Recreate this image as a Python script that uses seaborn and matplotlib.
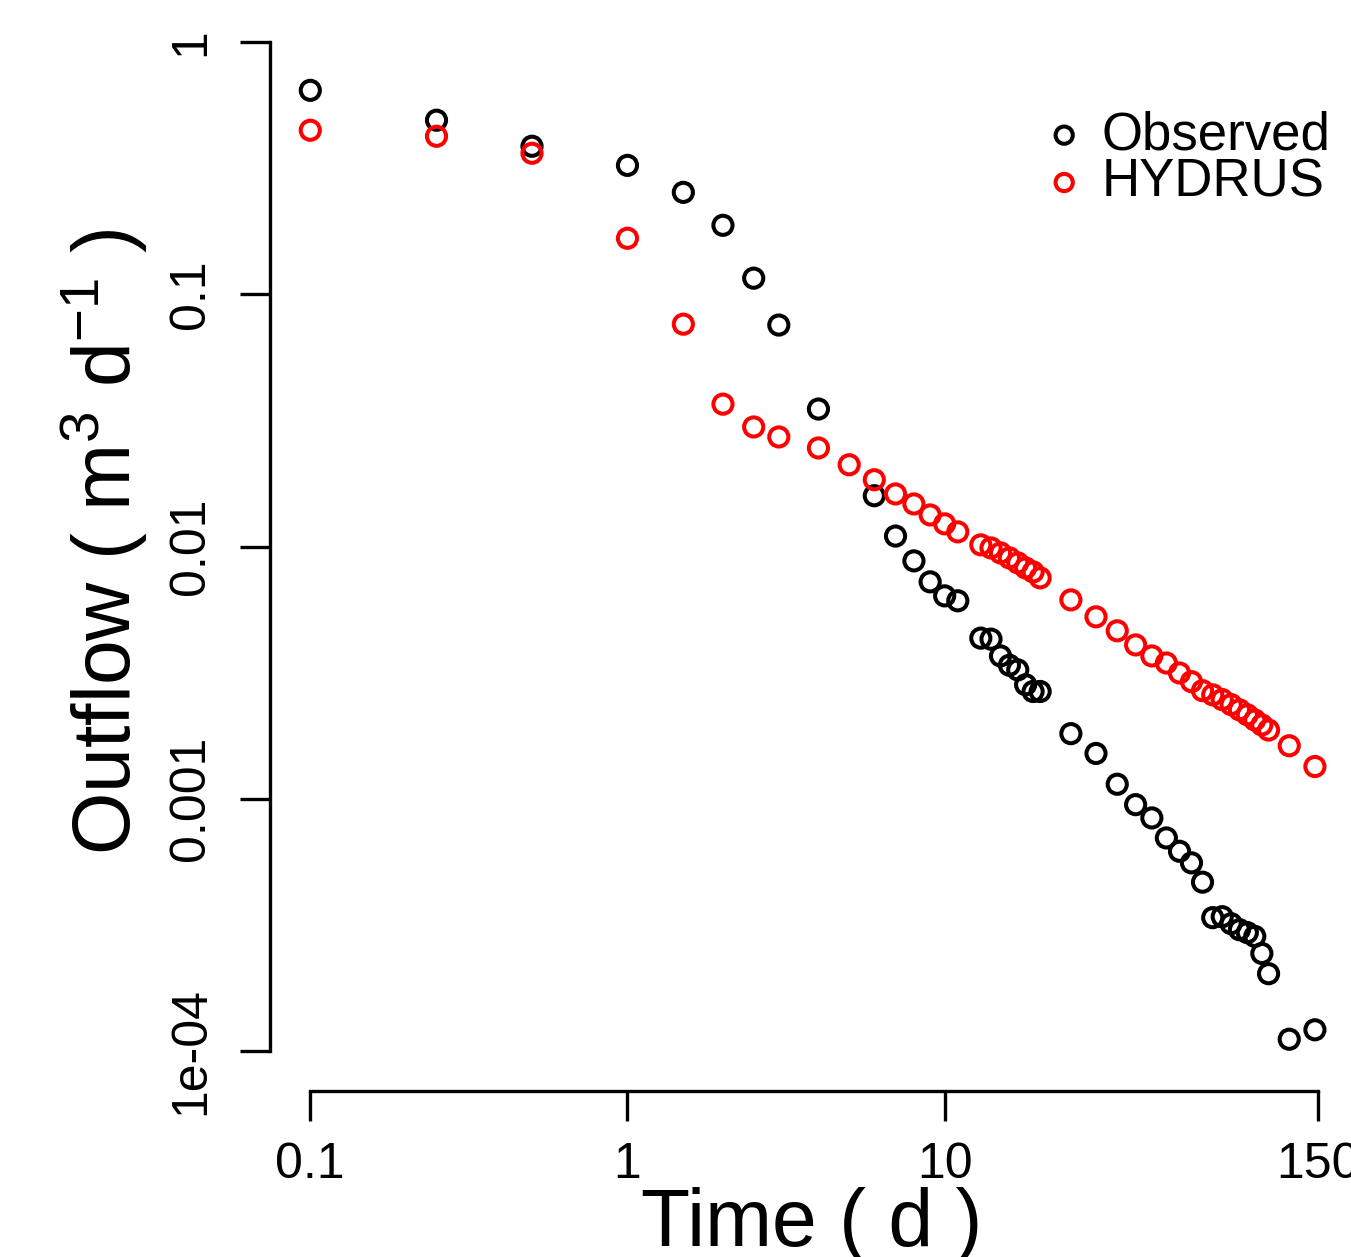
import numpy as np
import pandas as pd
import matplotlib
matplotlib.use("Agg")
import matplotlib.pyplot as plt
import seaborn as sns

# Observed outflow (time in days, outflow in m3/d)
obs_time = [0.1, 0.25, 0.5, 1, 1.5, 2, 2.5, 3, 4, 6, 7, 8, 9, 10, 11,
            13, 14, 15, 16, 17, 18, 19, 20, 25, 30, 35, 40, 45, 50, 55, 60,
            65, 70, 75, 80, 85, 90, 95, 100, 105, 122, 147]
obs_flow = [0.645, 0.491, 0.387, 0.325, 0.254, 0.188, 0.116, 0.0756, 0.0351,
            0.0159, 0.0110, 0.00877, 0.00724, 0.00637, 0.00609,
            0.00433, 0.00429, 0.00368, 0.00338, 0.00324, 0.00283, 0.00266, 0.00266,
            0.00181, 0.00151, 0.00114, 0.000946, 0.000838, 0.000698, 0.000618, 0.000556,
            0.000466, 0.000337, 0.000340, 0.000319, 0.000302, 0.000294, 0.000284,
            0.000243, 0.000202, 0.000111, 0.000121]

# HYDRUS simulated outflow
hyd_time = [0.1, 0.25, 0.5, 1, 1.5, 2, 2.5, 3, 4, 5, 6, 7, 8, 9, 10, 11,
            13, 14, 15, 16, 17, 18, 19, 20, 25, 30, 35, 40, 45, 50, 55, 60,
            65, 70, 75, 80, 85, 90, 95, 100, 105, 122, 147]
hyd_flow = [0.448, 0.424, 0.363, 0.167, 0.0762, 0.0367, 0.0298, 0.0272, 0.0246,
            0.0211, 0.0184, 0.01616, 0.01475, 0.01334, 0.0123, 0.01143,
            0.01015, 0.00987, 0.00943, 0.00901, 0.00861, 0.00822, 0.00793, 0.00751,
            0.00614, 0.00526, 0.00463, 0.00407, 0.00368, 0.00345, 0.00315, 0.00291,
            0.00268, 0.00258, 0.00247, 0.00236, 0.00225, 0.00215, 0.00205, 0.00196,
            0.00187, 0.00162, 0.00134]

x_ticks = [0.1, 1, 10, 150]
x_labels = ["0.1", "1", "10", "150"]
y_ticks = [1e-4, 1e-3, 1e-2, 0.1, 1]
y_labels = ["1e-04", "0.001", "0.01", "0.1", "1"]

sns.set_style("ticks")
plt.rcParams['font.family'] = ['Liberation Sans', 'DejaVu Sans']
plt.rcParams['mathtext.fontset'] = 'custom'
plt.rcParams['mathtext.rm'] = 'Liberation Sans'
plt.rcParams['mathtext.it'] = 'Liberation Sans'
for key in ['text.color', 'axes.labelcolor', 'xtick.color', 'ytick.color', 'axes.edgecolor']:
    plt.rcParams[key] = 'black'

W, H = 1351, 1257
fig = plt.figure(figsize=(W / 100, H / 100), dpi=100)
ax = fig.add_axes([270 / W, 166 / H, 1088 / W, 1089 / H])

obs = pd.DataFrame({"time": obs_time, "flow": obs_flow})
hyd = pd.DataFrame({"time": hyd_time, "flow": hyd_flow})

sns.scatterplot(data=obs, x="time", y="flow", ax=ax, marker="o", s=190,
                facecolor="none", edgecolor="black", linewidth=2.9,
                label="Observed", zorder=2)
sns.scatterplot(data=hyd, x="time", y="flow", ax=ax, marker="o", s=190,
                facecolor="none", edgecolor="red", linewidth=2.9,
                label="HYDRUS", zorder=3)

ax.set_xscale("log")
ax.set_yscale("log")

# R-style 4% padding around the axis range
xr = np.log10([0.1, 150])
yr = np.log10([1e-4, 1])
px = 0.04 * (xr[1] - xr[0])
py = 0.04 * (yr[1] - yr[0])
ax.set_xlim(10 ** (xr[0] - px), 10 ** (xr[1] + px))
ax.set_ylim(10 ** (yr[0] - py), 10 ** (yr[1] + py))

ax.xaxis.set_major_locator(matplotlib.ticker.FixedLocator(x_ticks))
ax.xaxis.set_minor_locator(matplotlib.ticker.NullLocator())
ax.yaxis.set_major_locator(matplotlib.ticker.FixedLocator(y_ticks))
ax.yaxis.set_minor_locator(matplotlib.ticker.NullLocator())
ax.set_xticklabels(x_labels)
ax.set_yticklabels(y_labels, rotation=90, va="center")

for side in ["top", "right"]:
    ax.spines[side].set_visible(False)
ax.spines["left"].set_bounds(1e-4, 1)
ax.spines["bottom"].set_bounds(0.1, 150)
for side in ["left", "bottom"]:
    ax.spines[side].set_linewidth(2.4)
ax.tick_params(axis="both", which="major", length=21.5, width=2.4,
               labelsize=36, direction="out", color="black", labelcolor="black")
ax.tick_params(axis="x", pad=15)
ax.tick_params(axis="y", pad=19)
ax.set_xlabel("")
ax.set_ylabel("")
ax.set_facecolor("white")

fig.text(812 / W, (H - 1246) / H, "Time ( d )", fontsize=58,
         ha="center", va="baseline")
fig.text(130 / W, (H - 542) / H, r"Outflow ( m$^{3}$ d$^{-1}$ )", fontsize=58,
         ha="center", va="baseline", rotation=90, rotation_mode="anchor")

ax.legend(loc="upper right", bbox_to_anchor=(1330 / W, (H - 110) / H),
          bbox_transform=fig.transFigure, frameon=False, fontsize=38,
          borderaxespad=0, borderpad=0, handletextpad=0.2, handlelength=1.0,
          labelspacing=-0.05, markerscale=0.9)

fig.savefig("out.png", dpi=100, facecolor="white")
